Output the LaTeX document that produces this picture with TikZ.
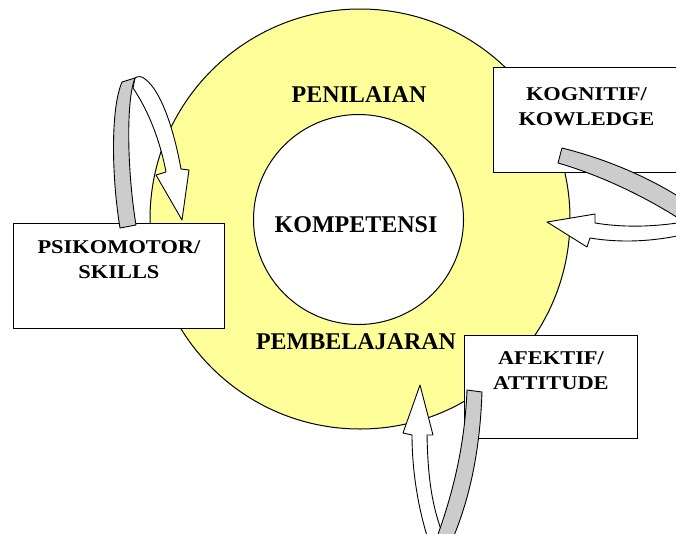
\documentclass[tikz,border=0pt]{standalone}
\usepackage{fontspec}
\setmainfont{Liberation Serif}
\newfontfamily\boxfont{Liberation Serif}[FakeStretch=1.15]
\usetikzlibrary{positioning}
\definecolor{ringyellow}{RGB}{255,255,153}
\definecolor{bandgrey}{RGB}{204,204,204}

\begin{document}
\begin{tikzpicture}[x=1pt, y=-1pt,
		bigtext/.style={font=\fontsize{24}{28}\selectfont\bfseries, inner sep=0pt},
		boxtext/.style={font=\boxfont\fontsize{19.5}{25}\selectfont\bfseries, align=center, inner sep=0pt},
		infobox/.style={draw, line width=0.9pt, fill=white, anchor=north west, inner sep=0pt},
		loopband/.style={draw, line width=0.9pt, fill=bandgrey, line join=round},
		looparrow/.style={draw, line width=0.9pt, fill=white, line join=round}]
		%%%%% START %%%%%
		\useasboundingbox (0,0) rectangle (676,533);
		\clip (0,0) rectangle (676,533);
		
		% rings
		\draw[line width=1pt, fill=ringyellow] (360,219) circle [radius=210pt];
		\draw[line width=1pt, fill=white] (358.5,219.5) circle [radius=105pt];
		
		\node[bigtext] (penilaian) at (359,95) {PENILAIAN};
		\node[bigtext] (kompetensi) at (356,225) {KOMPETENSI};
		\node[bigtext] (pembelajaran) at (356,342) {PEMBELAJARAN};
		
		% boxes
		\node[infobox, minimum width=211pt, minimum height=105pt] (psiko) at (13,223) {};
		\node[boxtext, below=17pt of psiko.north] (psikotext) {PSIKOMOTOR/\\SKILLS};
		
		\node[infobox, minimum width=186pt, minimum height=105pt] (kogni) at (493,67) {};
		\node[boxtext, below=20pt of kogni.north] (kognitext) {KOGNITIF/\\KOWLEDGE};
		
		\node[infobox, minimum width=173pt, minimum height=103pt] (afek) at (464,335) {};
		\node[boxtext, below=16pt of afek.north] (afektext) {AFEKTIF/\\ATTITUDE};
		
		% loop left
		\draw[looparrow] (133,88) .. controls (148,110) and (160,140) .. (166,172) -- (156,175) -- (182,220)
			-- (189,170) -- (181,169) .. controls (173,125) and (160,90) .. (145,79)
			.. controls (142,76) and (137,76) .. (135,78) -- cycle;
		\draw[loopband] (122,82) -- (135,78) .. controls (126,100) and (127,170) .. (136,225)
			-- (120,228) .. controls (112,180) and (110,110) .. (122,82) -- cycle;
		
		% loop right
		\draw[looparrow] (690,221) .. controls (650,228) and (620,227) .. (595,223) -- (595,214) -- (547,222)
			-- (587,247) -- (590,238) .. controls (620,243) and (655,242) .. (690,233) -- cycle;
		\draw[loopband] (558,163) -- (562,148) .. controls (610,160) and (655,180) .. (690,204)
			-- (690,226) .. controls (660,205) and (610,178) .. (558,163) -- cycle;
		
		% loop bottom
		\draw[looparrow] (427,435) .. controls (428,480) and (432,510) .. (447,545) -- (430,545)
			.. controls (418,510) and (412,470) .. (412,435) -- (403,433) -- (420,385) -- (433,435) -- cycle;
		\draw[loopband] (467,390) -- (482,392) .. controls (480,450) and (470,500) .. (450,545)
			-- (434,545) .. controls (455,490) and (465,440) .. (467,390) -- cycle;
		%%%%% END %%%%%
	\end{tikzpicture}
\end{document}
